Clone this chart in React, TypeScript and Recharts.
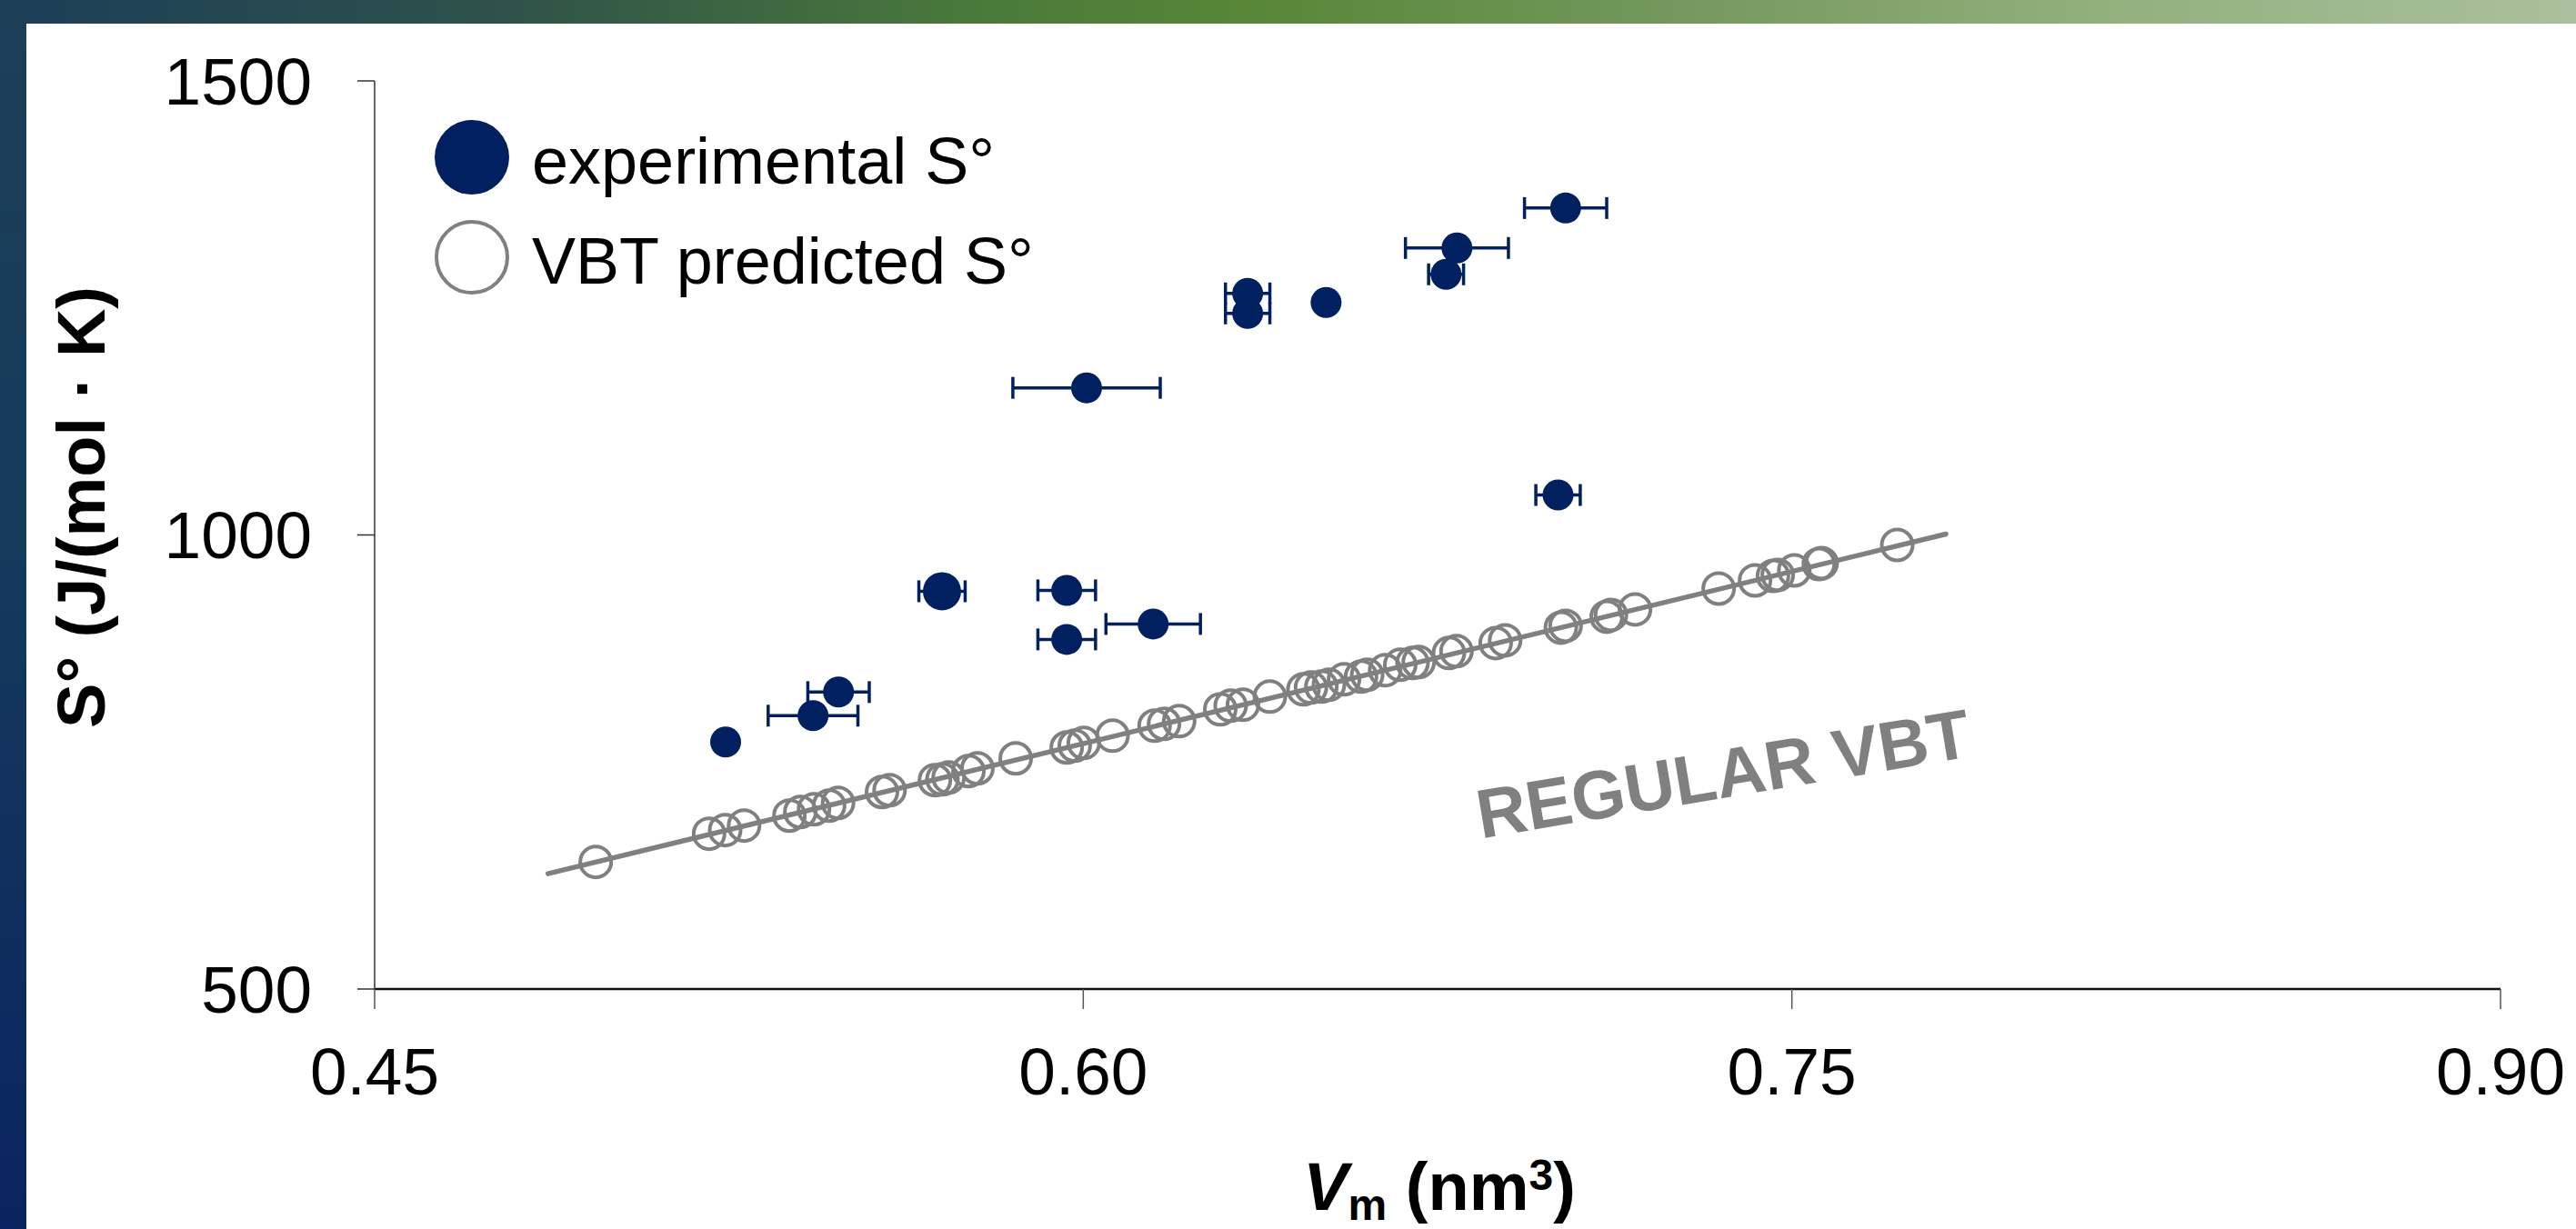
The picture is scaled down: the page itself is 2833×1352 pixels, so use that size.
import React from 'react';
import {
  ScatterChart,
  Scatter,
  XAxis,
  YAxis,
  ErrorBar,
} from 'recharts';

// experimental S° with x-uncertainty (nm³)
const expV = [0.5243, 0.5428, 0.5482, 0.5701, 0.5965, 0.5965, 0.6148, 0.6007, 0.6348, 0.6348, 0.6514, 0.6768, 0.6791, 0.7021, 0.7005];
const expS = [772, 801, 827, 938, 939, 885, 902, 1162, 1266, 1244, 1256, 1287, 1316, 1360, 1044];
const expVErr = [0, 0.0095, 0.0065, 0.0049, 0.0061, 0.0061, 0.01, 0.0156, 0.0047, 0.0047, 0, 0.0037, 0.0109, 0.0087, 0.0047];

// VBT predicted S°
const predV = [
  0.4968, 0.5208, 0.5242, 0.5282, 0.5378, 0.5401, 0.543, 0.5462, 0.5481, 0.5574,
  0.559, 0.5686, 0.5702, 0.5715, 0.5757, 0.5776, 0.5857, 0.5965, 0.5982, 0.6001,
  0.6062, 0.6151, 0.6171, 0.6203, 0.629, 0.6312, 0.6338, 0.6395, 0.6466, 0.6482,
  0.6504, 0.652, 0.6552, 0.6588, 0.6601, 0.6639, 0.6671, 0.6697, 0.671, 0.6774,
  0.679, 0.6873, 0.6893, 0.7011, 0.7021, 0.7108, 0.7117, 0.7168, 0.7345, 0.7422,
  0.746, 0.747, 0.7505, 0.7557, 0.7563, 0.7723,
];
const predS = [
  640, 671, 675, 680, 691, 695, 698, 702, 705, 717,
  719, 730, 731, 733, 740, 743, 754, 766, 768, 771,
  779, 790, 792, 795, 808, 812, 813, 822, 830, 832,
  833, 835, 841, 844, 846, 851, 857, 859, 860, 870,
  872, 881, 884, 898, 900, 910, 912, 918, 941, 950,
  955, 956, 961, 968, 969, 989,
];

// regular VBT line
const trendV = [0.4867, 0.7826];
const trendS = [627, 1001];

const xTicks = [0.45, 0.6, 0.75, 0.9];
const yTicks = [500, 1000, 1500];

const NAVY = '#002060';
const GRAY = '#808080';
const FONT = '"Liberation Sans", Arial, sans-serif';
const BIG = 3; // this one is drawn larger in the original

const expData = expV.map((v, i) => ({ x: v, y: expS[i], err: expVErr[i] }));
const predData = predV.map((v, i) => ({ x: v, y: predS[i] }));
const trendData = trendV.map((v, i) => ({ x: v, y: trendS[i] }));

function ExpDot(props: any) {
  const { cx, cy, payload } = props;
  const big = payload && payload.x === expV[BIG] && payload.y === expS[BIG];
  return <circle cx={cx} cy={cy} r={big ? 21 : 17} fill={NAVY} />;
}

function PredDot(props: any) {
  return <circle cx={props.cx} cy={props.cy} r={17} fill="none" stroke={GRAY} strokeWidth={4} />;
}

export default function App() {
  return (
    <div style={{ position: 'absolute', left: 0, top: 0, width: 2833, height: 1352, overflow: 'hidden', background: '#fff' }}>
      <div
        style={{
          position: 'absolute', left: 0, top: 0, width: 2833, height: 26,
          background: 'linear-gradient(90deg, #1b3e59 0%, #2f5349 20%, #4a7a3a 38%, #568636 48%, #74985d 65%, #90b07b 81%, #abc09e 100%)',
        }}
      />
      <div
        style={{
          position: 'absolute', left: 0, top: 0, width: 29, height: 1352,
          background: 'linear-gradient(180deg, #1c4058 0%, #153a5c 45%, #0a2461 100%)',
        }}
      />
      <div style={{ position: 'absolute', left: 0, top: 0 }}>
        <ScatterChart width={2833} height={1352} margin={{ top: 89, right: 83, bottom: 0, left: 0 }}>
          <XAxis
            type="number"
            dataKey="x"
            domain={[0.45, 0.9]}
            ticks={xTicks}
            tickFormatter={(v: number) => v.toFixed(2)}
            height={264}
            tickSize={22}
            tickMargin={42}
            axisLine={{ stroke: '#111', strokeWidth: 2.5 }}
            tickLine={{ stroke: '#555', strokeWidth: 1.5 }}
            tick={{ fontSize: 73, fill: '#000', fontFamily: FONT }}
            allowDataOverflow
          />
          <YAxis
            type="number"
            dataKey="y"
            domain={[500, 1500]}
            ticks={yTicks}
            width={412}
            tickSize={19}
            tickMargin={50}
            axisLine={{ stroke: '#333', strokeWidth: 1.5 }}
            tickLine={{ stroke: '#333', strokeWidth: 1.5 }}
            tick={{ fontSize: 73, fill: '#000', fontFamily: FONT }}
            allowDataOverflow
          />
          <Scatter
            data={trendData}
            line={{ stroke: GRAY, strokeWidth: 5.5, strokeLinecap: 'round' }}
            shape={() => <g />}
            isAnimationActive={false}
          />
          <Scatter data={predData} shape={PredDot} isAnimationActive={false} />
          <Scatter data={expData} shape={ExpDot} isAnimationActive={false}>
            <ErrorBar dataKey="err" direction="x" width={12} strokeWidth={3.5} stroke={NAVY} />
          </Scatter>
        </ScatterChart>
      </div>
      <svg
        width={2833}
        height={1352}
        style={{ position: 'absolute', left: 0, top: 0, pointerEvents: 'none' }}
        fontFamily={FONT}
      >
        {/* legend */}
        <circle cx={519} cy={173} r={41} fill={NAVY} />
        <text x={585} y={202} fontSize={72} fill="#000">experimental S°</text>
        <circle cx={519} cy={283} r={39} fill="none" stroke={GRAY} strokeWidth={4} />
        <text x={585} y={312} fontSize={72} fill="#000">VBT predicted S°</text>

        {/* axis titles */}
        <text
          transform="translate(115,558) rotate(-90)"
          textAnchor="middle"
          fontSize={74}
          fontWeight="bold"
          fill="#000"
        >
          S° (J/(mol · K)
        </text>
        <text x={1583} y={1331} textAnchor="middle" fontSize={74} fontWeight="bold" fill="#000">
          <tspan fontStyle="italic">V</tspan>
          <tspan fontSize={48} dy={11}>m</tspan>
          <tspan dy={-11}> (nm</tspan>
          <tspan fontSize={48} dy={-22}>3</tspan>
          <tspan dy={22}>)</tspan>
        </text>

        <text
          transform="translate(1895,851) rotate(-9.5)"
          textAnchor="middle"
          dominantBaseline="central"
          fontSize={76}
          fontWeight="bold"
          fill={GRAY}
        >
          REGULAR VBT
        </text>
      </svg>
    </div>
  );
}
